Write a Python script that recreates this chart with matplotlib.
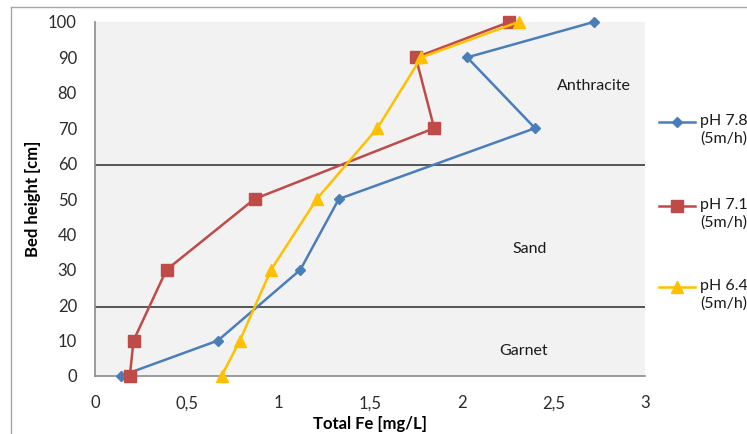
import matplotlib.pyplot as plt
from matplotlib.lines import Line2D

plt.rcParams['font.family'] = ['Lato', 'DejaVu Sans']

# bed height (cm) vs total iron (mg/L) for three feed pH values
height = [0, 10, 30, 50, 70, 90, 100]
fe_ph78 = [0.14, 0.67, 1.12, 1.33, 2.40, 2.03, 2.72]
fe_ph71 = [0.19, 0.21, 0.39, 0.87, 1.85, 1.75, 2.26]
fe_ph64 = [0.69, 0.79, 0.96, 1.21, 1.54, 1.78, 2.31]

labels = ['pH 7.8\n(5m/h)', 'pH 7.1\n(5m/h)', 'pH 6.4\n(5m/h)']
colors = ['#4a7ebb', '#be4b48', '#ffc000']
markers = ['D', 's', '^']
msizes = [5, 8, 8]

layer_bounds = [59.5, 19.5]
layer_names = ['Anthracite', 'Sand', 'Garnet']
layer_pos = [(2.72, 82), (2.37, 36), (2.34, 7)]

xticks = [0, 0.5, 1, 1.5, 2, 2.5, 3]
xticklabels = ['0', '0,5', '1', '1,5', '2', '2,5', '3']
yticks = list(range(0, 101, 10))

fig = plt.figure(figsize=(7.47, 4.34), dpi=100)
ax = fig.add_axes([95 / 747, 58 / 434, 550 / 747, 354 / 434])
ax.set_facecolor('#f2f2f2')

series = [fe_ph78, fe_ph71, fe_ph64]
for vals, c, m, ms in zip(series, colors, markers, msizes):
    ax.plot(vals, height, color=c, marker=m, markersize=ms, lw=1.8,
            clip_on=False, zorder=3)

for b in layer_bounds:
    ax.axhline(b, color='#3a3a3a', lw=1.2, zorder=2)

for name, (x, y) in zip(layer_names, layer_pos):
    ax.text(x, y, name, ha='center', va='center', fontsize=11.5, color='#1a1a1a')

ax.set_xlim(0, 3)
ax.set_ylim(0, 100)
ax.set_xticks(xticks)
ax.set_xticklabels(xticklabels)
ax.set_yticks(yticks)
ax.tick_params(length=0, labelsize=12, labelcolor='#2b2b2b', pad=13)
ax.tick_params(axis='x', pad=14)

for s in ['top', 'right']:
    ax.spines[s].set_visible(False)
for s in ['left', 'bottom']:
    ax.spines[s].set_color('#8c8c8c')
    ax.spines[s].set_linewidth(1.2)

ax.set_xlabel('Total Fe [mg/L]', fontsize=12, fontweight='bold', labelpad=3)
ax.set_ylabel('Bed height [cm]', fontsize=12, fontweight='bold', labelpad=5)

# legend, drawn by hand so each handle sits on the first text line
leg_y = [122, 206, 287]
for lab, c, m, ms, y in zip(labels, colors, markers, msizes, leg_y):
    fy = 1 - y / 434
    fig.add_artist(Line2D([659 / 747, 695 / 747], [fy, fy], color=c, lw=1.8))
    fig.add_artist(Line2D([677 / 747], [fy], color=c, marker=m, markersize=ms))
    fig.text(700 / 747, fy + 8 / 434, lab, ha='left', va='top', fontsize=11.5,
             color='#1a1a1a', linespacing=1.3)

# chart area border
fig.add_artist(Line2D([11 / 747, 11 / 747], [0, 1 - 7 / 434], color='#a6a6a6', lw=1))
fig.add_artist(Line2D([11 / 747, 1], [1 - 7 / 434, 1 - 7 / 434], color='#a6a6a6', lw=1))

fig.savefig('out.png', dpi=100)
